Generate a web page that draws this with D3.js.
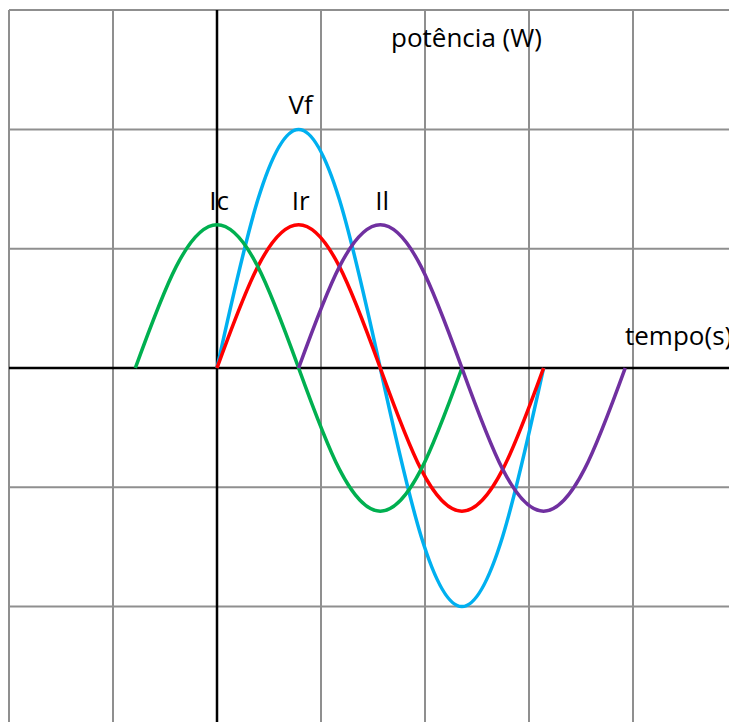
<!DOCTYPE html>
<html>
<head>
<meta charset="utf-8">
<script src="https://cdn.jsdelivr.net/npm/d3@7"></script>
<style>
  html, body { margin: 0; padding: 0; background: #fff; }
  text { font-family: "Open Sans", "DejaVu Sans", sans-serif; fill: #000; }
</style>
</head>
<body>
<div id="chart"></div>
<script>
////
// DATA
////
// grid ticks (grid units)
var x_ticks = [-2, -1, 0, 1, 2, 3, 4];
var y_ticks = [3, 2, 1, -1, -2];

// curve points, one every eighth of a period
var ic_points = [[-0.785, 0], [-0.3925, 0.85], [0, 1.2], [0.3925, 0.85], [0.785, 0], [1.1775, -0.85], [1.57, -1.2], [1.9625, -0.85], [2.355, 0]];
var vf_points = [[0, 0], [0.3925, 1.41], [0.785, 2], [1.1775, 1.41], [1.57, 0], [1.9625, -1.41], [2.355, -2], [2.7475, -1.41], [3.14, 0]];
var ir_points = [[0, 0], [0.3925, 0.85], [0.785, 1.2], [1.1775, 0.85], [1.57, 0], [1.9625, -0.85], [2.355, -1.2], [2.7475, -0.85], [3.14, 0]];
var il_points = [[0.785, 0], [1.1775, 0.85], [1.57, 1.2], [1.9625, 0.85], [2.355, 0], [2.7475, -0.85], [3.14, -1.2], [3.5325, -0.85], [3.925, 0]];

// drawing order matches the reference (later ones on top)
var series_names = ["Vf", "Ir", "Ic", "Il"];
var series_colors = ["#00b0f0", "#ff0000", "#00b050", "#7030a0"];
var series_points = [vf_points, ir_points, ic_points, il_points];

var y_title = "potência (W)";
var x_title = "tempo(s)";

////
// CONTAINER
////
const width = 729, height = 722;

const svg = d3.select("#chart")
    .append("svg")
    .attr("width", width)
    .attr("height", height);

// 1 grid unit = 104px across, 119.3px up
var x = d3.scaleLinear().domain([0, 1]).range([217, 321]);
var y = d3.scaleLinear().domain([0, 1]).range([368, 248.7]);

// grid
svg.append("g").selectAll("line")
    .data(x_ticks)
    .enter()
    .append("line")
    .attr("x1", d => x(d)).attr("x2", d => x(d))
    .attr("y1", y(3)).attr("y2", height)
    .style("stroke", "#8f8f8f")
    .style("stroke-width", 2);

svg.append("g").selectAll("line")
    .data(y_ticks)
    .enter()
    .append("line")
    .attr("x1", x(-2)).attr("x2", width)
    .attr("y1", d => y(d)).attr("y2", d => y(d))
    .style("stroke", "#8f8f8f")
    .style("stroke-width", 2);

// axes
svg.append("line")
    .attr("x1", x(0)).attr("x2", x(0))
    .attr("y1", y(3)).attr("y2", height)
    .style("stroke", "#000").style("stroke-width", 2.5);

svg.append("line")
    .attr("x1", x(-2)).attr("x2", width)
    .attr("y1", y(0)).attr("y2", y(0))
    .style("stroke", "#000").style("stroke-width", 2.5);

// curves
var line = d3.line()
    .x(d => x(d[0]))
    .y(d => y(d[1]))
    .curve(d3.curveNatural);

svg.append("g").selectAll("path")
    .data(series_points)
    .enter()
    .append("path")
    .attr("d", d => line(d))
    .style("fill", "none")
    .style("stroke", (d, i) => series_colors[i])
    .style("stroke-width", 3.5);

// curve labels sit above each peak
svg.append("g").selectAll("text")
    .data(series_points)
    .enter()
    .append("text")
    .attr("x", d => x(d3.greatest(d, p => p[1])[0]) + 2)
    .attr("y", d => y(d3.max(d, p => p[1])) - 15)
    .attr("text-anchor", "middle")
    .style("font-size", "26px")
    .text((d, i) => series_names[i]);

// axis titles
svg.append("text")
    .attr("x", 391).attr("y", 47)
    .style("font-size", "26px")
    .text(y_title);

svg.append("text")
    .attr("x", 625).attr("y", 345)
    .style("font-size", "26px")
    .text(x_title);
</script>
</body>
</html>
